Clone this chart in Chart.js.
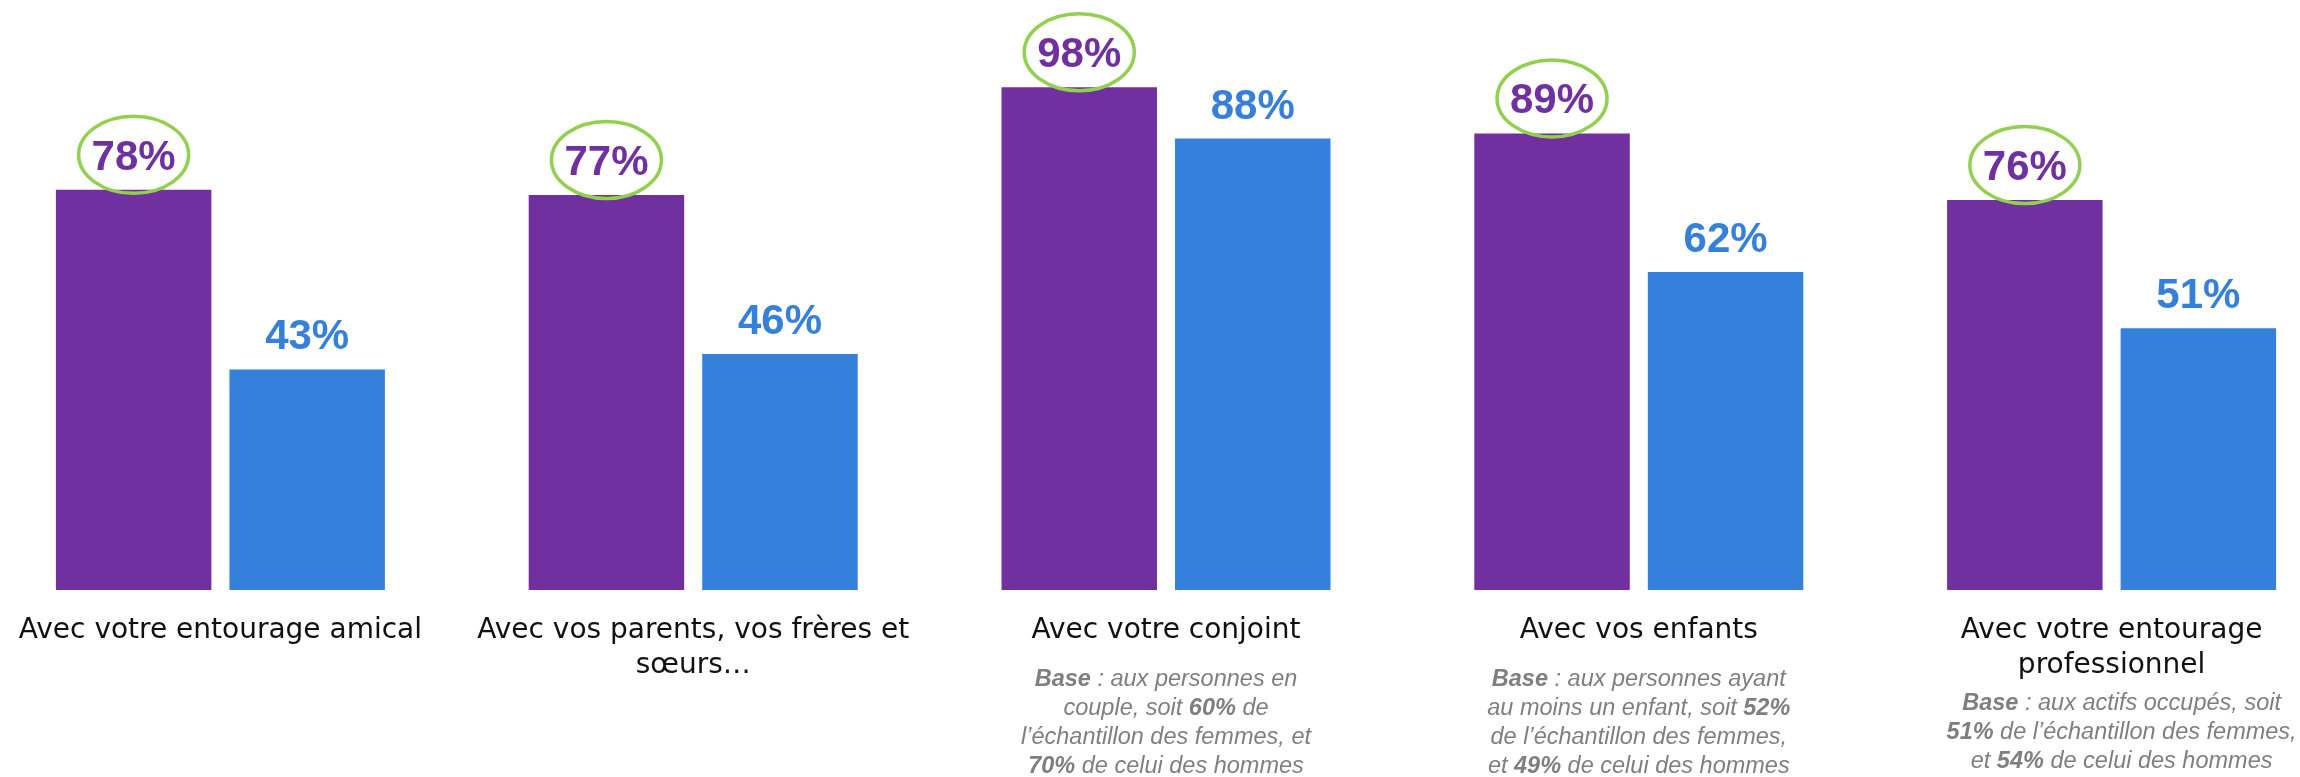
<!DOCTYPE html>
<html lang="fr">
<head>
<meta charset="utf-8">
<title>Relations</title>
<script src="https://cdn.jsdelivr.net/npm/chart.js@4/dist/chart.umd.min.js"></script>
<style>
    html, body { margin: 0; padding: 0; background: #fff; overflow: hidden; }
    body { width: 2300px; height: 777px; position: relative; }
    #wrap { position: absolute; left: -16px; top: 0; width: 2364px; height: 777px; }
</style>
</head>
<body>
<div id="wrap"><canvas id="chart"></canvas></div>
<script>
const categories = [
    "Avec votre entourage amical",
    ["Avec vos parents, vos frères et", "sœurs…"],
    "Avec votre conjoint",
    "Avec vos enfants",
    ["Avec votre entourage", "professionnel"]
];
const femmes = [78, 77, 98, 89, 76];
const hommes = [43, 46, 88, 62, 51];

// base notes: one entry per category, each line is a list of [text, bold] runs
const baseNotes = [
    null,
    null,
    [
        [["Base", true], [" : aux personnes en", false]],
        [["couple, soit ", false], ["60%", true], [" de", false]],
        [["l’échantillon des femmes, et", false]],
        [["70%", true], [" de celui des hommes", false]]
    ],
    [
        [["Base", true], [" : aux personnes ayant", false]],
        [["au moins un enfant, soit ", false], ["52%", true]],
        [["de l’échantillon des femmes,", false]],
        [["et ", false], ["49%", true], [" de celui des hommes", false]]
    ],
    [
        [["Base", true], [" : aux actifs occupés, soit", false]],
        [["51%", true], [" de l’échantillon des femmes,", false]],
        [["et ", false], ["54%", true], [" de celui des hommes", false]]
    ]
];

const PURPLE = "#7030A0";
const BLUE = "#3580DA";
const GREEN = "#92D050";
const noteTop = [0, 0, 96, 96, 120];     // first note baseline below the axis
const noteShift = [0, 0, 0, 0, 10];      // small horizontal nudge of the notes
const noteLine = 29;

// percentage over each bar, ringed in green for the first series
const valueLabels = {
    id: "valueLabels",
    afterDatasetsDraw(chart) {
        const ctx = chart.ctx;
        chart.data.datasets.forEach((ds, di) => {
            chart.getDatasetMeta(di).data.forEach((bar, i) => {
                ctx.save();
                ctx.font = 'bold 42px "Liberation Sans", Arial, sans-serif';
                ctx.fillStyle = ds.backgroundColor;
                ctx.textAlign = "center";
                ctx.textBaseline = "alphabetic";
                ctx.fillText(ds.data[i] + "%", bar.x, bar.y - 20);
                if (di === 0) {
                    ctx.beginPath();
                    ctx.ellipse(bar.x, bar.y - 35, 55, 38.5, 0, 0, Math.PI * 2);
                    ctx.lineWidth = 3.5;
                    ctx.strokeStyle = GREEN;
                    ctx.stroke();
                }
                ctx.restore();
            });
        });
    }
};

// grey italic "Base" notes under the category labels
const notes = {
    id: "notes",
    afterDraw(chart) {
        const ctx = chart.ctx;
        const xs = chart.scales.x;
        const fontOf = bold => (bold ? "italic bold " : "italic ") + '23.5px "Liberation Sans", Arial, sans-serif';
        ctx.save();
        ctx.fillStyle = "#7F7F7F";
        ctx.textAlign = "left";
        ctx.textBaseline = "alphabetic";
        baseNotes.forEach((note, i) => {
            if (!note) return;
            const cx = xs.getPixelForValue(i) + noteShift[i];
            note.forEach((runs, li) => {
                let total = 0;
                runs.forEach(([t, b]) => { ctx.font = fontOf(b); total += ctx.measureText(t).width; });
                let x = cx - total / 2;
                const y = chart.chartArea.bottom + noteTop[i] + li * noteLine;
                runs.forEach(([t, b]) => {
                    ctx.font = fontOf(b);
                    ctx.fillText(t, x, y);
                    x += ctx.measureText(t).width;
                });
            });
        });
        ctx.restore();
    }
};

new Chart(document.getElementById("chart"), {
    type: "bar",
    data: {
        labels: categories,
        datasets: [
            { label: "Femmes", data: femmes, backgroundColor: PURPLE },
            { label: "Hommes", data: hommes, backgroundColor: BLUE }
        ]
    },
    options: {
        responsive: true,
        maintainAspectRatio: false,
        animation: false,
        datasets: { bar: { categoryPercentage: 0.734, barPercentage: 0.896, borderWidth: 0 } },
        layout: { padding: { top: 77, left: 0, right: 0, bottom: 0 } },
        plugins: { legend: { display: false }, tooltip: { enabled: false } },
        scales: {
            x: {
                grid: { display: false, drawTicks: false },
                border: { display: false },
                ticks: {
                    padding: 23,
                    maxRotation: 0,
                    autoSkip: false,
                    color: "#111",
                    font: { family: '"DejaVu Sans", sans-serif', size: 28, lineHeight: 1.25 }
                },
                afterFit: scale => { scale.height = 187; }
            },
            y: { display: false, min: 0, max: 100 }
        }
    },
    plugins: [valueLabels, notes]
});
</script>
</body>
</html>
